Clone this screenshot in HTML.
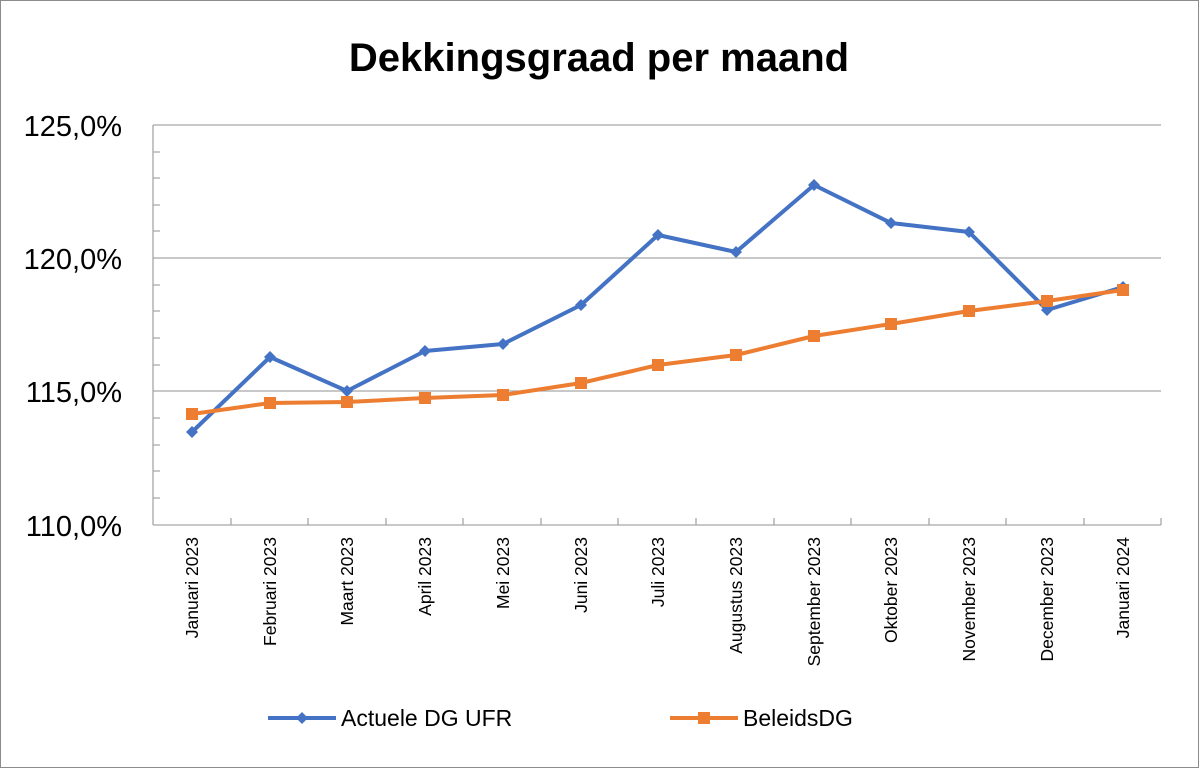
<!DOCTYPE html>
<html><head><style>body{margin:0;background:#fff}svg{display:block}</style></head><body>
<svg width="1199" height="768" xmlns="http://www.w3.org/2000/svg" font-family="Liberation Sans, sans-serif">
<rect x="0.5" y="0.5" width="1198" height="767" fill="#fff" stroke="#8c8c8c"/>
<text x="599" y="71" text-anchor="middle" font-size="40" font-weight="bold">Dekkingsgraad per maand</text>
<g stroke="#a6a6a6" stroke-width="1.3">
<line x1="153" y1="125" x2="1161" y2="125"/><line x1="153" y1="258" x2="1161" y2="258"/><line x1="153" y1="391" x2="1161" y2="391"/>
<line x1="153" y1="125" x2="153" y2="525"/><line x1="153" y1="525" x2="1161" y2="525"/>
<path d="M153 152h7M153 178h7M153 205h7M153 231h7M153 285h7M153 311h7M153 338h7M153 365h7M153 418h7M153 445h7M153 471h7M153 498h7"/>
<path d="M231 525v-7M308 525v-7M386 525v-7M463 525v-7M541 525v-7M618 525v-7M696 525v-7M774 525v-7M851 525v-7M929 525v-7M1006 525v-7M1084 525v-7M1161 525v-7"/>
</g>
<g font-size="29" text-anchor="end"><text x="122" y="136">125,0%</text><text x="122" y="269">120,0%</text><text x="122" y="402">115,0%</text><text x="122" y="536">110,0%</text></g>
<g font-size="17.5" text-anchor="end">
<text transform="translate(198,537) rotate(-90)">Januari 2023</text>
<text transform="translate(276,537) rotate(-90)">Februari 2023</text>
<text transform="translate(353,537) rotate(-90)">Maart 2023</text>
<text transform="translate(431,537) rotate(-90)">April 2023</text>
<text transform="translate(509,537) rotate(-90)">Mei 2023</text>
<text transform="translate(587,537) rotate(-90)">Juni 2023</text>
<text transform="translate(664,537) rotate(-90)">Juli 2023</text>
<text transform="translate(742,537) rotate(-90)">Augustus 2023</text>
<text transform="translate(820,537) rotate(-90)">September 2023</text>
<text transform="translate(897,537) rotate(-90)">Oktober 2023</text>
<text transform="translate(975,537) rotate(-90)">November 2023</text>
<text transform="translate(1053,537) rotate(-90)">December 2023</text>
<text transform="translate(1129,537) rotate(-90)">Januari 2024</text>
</g>
<polyline fill="none" stroke="#4472c4" stroke-width="4" stroke-linejoin="round" points="192,432 270,357 347,391 425,351 503,344 581,305 658,235 736,252 814,185 891,223 969,232 1047,310 1123,287"/>
<g fill="#4472c4">
<path d="M192 426l6 6-6 6-6-6z"/><path d="M270 351l6 6-6 6-6-6z"/><path d="M347 385l6 6-6 6-6-6z"/><path d="M425 345l6 6-6 6-6-6z"/><path d="M503 338l6 6-6 6-6-6z"/><path d="M581 299l6 6-6 6-6-6z"/><path d="M658 229l6 6-6 6-6-6z"/><path d="M736 246l6 6-6 6-6-6z"/><path d="M814 179l6 6-6 6-6-6z"/><path d="M891 217l6 6-6 6-6-6z"/><path d="M969 226l6 6-6 6-6-6z"/><path d="M1047 304l6 6-6 6-6-6z"/><path d="M1123 281l6 6-6 6-6-6z"/>
</g>
<polyline fill="none" stroke="#ed7d31" stroke-width="4" stroke-linejoin="round" points="192,414 270,403 347,402 425,398 503,395 581,383 658,365 736,355 814,336 891,324 969,311 1047,301 1123,290"/>
<g fill="#ed7d31">
<rect x="186" y="408" width="12" height="12"/><rect x="264" y="397" width="12" height="12"/><rect x="341" y="396" width="12" height="12"/><rect x="419" y="392" width="12" height="12"/><rect x="497" y="389" width="12" height="12"/><rect x="575" y="377" width="12" height="12"/><rect x="652" y="359" width="12" height="12"/><rect x="730" y="349" width="12" height="12"/><rect x="808" y="330" width="12" height="12"/><rect x="885" y="318" width="12" height="12"/><rect x="963" y="305" width="12" height="12"/><rect x="1041" y="295" width="12" height="12"/><rect x="1117" y="284" width="12" height="12"/>
</g>
<line x1="268" y1="718" x2="336" y2="718" stroke="#4472c4" stroke-width="4"/><path d="M302 712l6 6-6 6-6-6z" fill="#4472c4"/>
<text x="341" y="726" font-size="23">Actuele DG UFR</text>
<line x1="670" y1="718" x2="738" y2="718" stroke="#ed7d31" stroke-width="4"/><rect x="698" y="712" width="12" height="12" fill="#ed7d31"/>
<text x="743" y="726" font-size="23">BeleidsDG</text>
</svg>
</body></html>
